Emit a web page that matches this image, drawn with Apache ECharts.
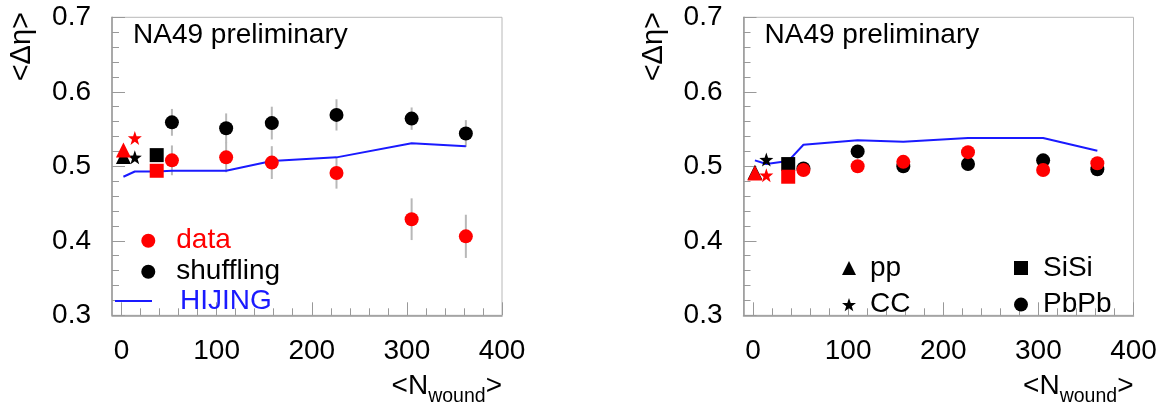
<!DOCTYPE html>
<html>
<head>
<meta charset="utf-8">
<script src="https://cdn.jsdelivr.net/npm/echarts@6/dist/echarts.min.js"></script>
<style>
  html, body { margin: 0; padding: 0; background: #fff; }
  #chart { width: 1166px; height: 405px; }
</style>
</head>
<body>
<div id="chart"></div>
<script>
// x positions
const xTicks = [0, 100, 200, 300, 400];
const nPbPb = [53, 110, 158, 226, 305, 362];
const nSmall = [2, 14, 37]; // pp, CC, SiSi
const smallNames = ['pp', 'CC', 'SiSi'];
const hijingN = [2, 14, 37, 53, 110, 158, 226, 305, 362];

// left panel
const leftData = [0.508, 0.512, 0.505, 0.491, 0.429, 0.406];
const leftDataErr = [0.020, 0.020, 0.022, 0.021, 0.028, 0.029];
const leftShuf = [0.559, 0.551, 0.558, 0.569, 0.564, 0.544];
const leftShufErr = [0.018, 0.020, 0.022, 0.021, 0.015, 0.018];
const leftDataSmall = [0.522, 0.538, 0.494];
const leftShufSmall = [0.513, 0.512, 0.515];
const leftHijing = [0.486, 0.493, 0.493, 0.494, 0.494, 0.507, 0.512, 0.531, 0.527];

// right panel
const rightData = [0.495, 0.500, 0.506, 0.519, 0.495, 0.504];
const rightDataErr = [0.008, 0.008, 0.008, 0.008, 0.008, 0.008];
const rightShuf = [0.497, 0.520, 0.500, 0.503, 0.508, 0.496];
const rightShufErr = [0.006, 0.006, 0.006, 0.006, 0.006, 0.006];
const rightDataSmall = [0.491, 0.488, 0.486];
const rightShufSmall = [0.492, 0.509, 0.503];
const rightHijing = [0.508, 0.503, 0.507, 0.529, 0.535, 0.533, 0.538, 0.538, 0.521];

const FONT = '"Liberation Sans", Arial, Helvetica, sans-serif';
const RED = '#ff0000', BLACK = '#000000', BLUE = '#1a1aff', GREY = '#999999';
const STAR = 'path://M0,-10L2.35,-3.24L9.51,-3.09L3.8,1.24L5.88,8.09L0,4L-5.88,8.09L-3.8,1.24L-9.51,-3.09L-2.35,-3.24Z';
const smallSymbols = ['triangle', STAR, 'rect'];
const smallSizes = [15, 14, 14];

// minor tick values, 5 divisions between majors
const xMinor = [];
for (let i = 0; i < xTicks.length - 1; i++) {
  const step = (xTicks[i + 1] - xTicks[i]) / 5;
  for (let k = 1; k < 5; k++) xMinor.push(xTicks[i] + k * step);
}

const chart = echarts.init(document.getElementById('chart'), null, { renderer: 'canvas' });

const gridLeft = [112, 743.5];

function errBars(name, gi, ns, vs, es) {
  return {
    type: 'custom', name: name, xAxisIndex: gi, yAxisIndex: gi, z: 1, silent: true,
    data: ns.map((n, i) => [n, vs[i], es[i]]),
    renderItem: function (params, api) {
      const x = api.value(0), y = api.value(1), e = api.value(2);
      const a = api.coord([x, y - e]), b = api.coord([x, y + e]);
      return {
        type: 'line',
        shape: { x1: a[0], y1: a[1], x2: b[0], y2: b[1] },
        style: { stroke: '#b8b8b8', lineWidth: 2 }
      };
    }
  };
}

function pts(name, gi, ns, vs, symbol, size, color, z) {
  return {
    type: 'scatter', name: name, xAxisIndex: gi, yAxisIndex: gi, z: z,
    symbol: symbol, symbolSize: size, silent: true,
    itemStyle: { color: color, opacity: 1 },
    data: ns.map((n, i) => [n, vs[i]])
  };
}

function hijing(gi, vs) {
  return {
    type: 'line', name: 'HIJING', xAxisIndex: gi, yAxisIndex: gi, z: 2,
    symbol: 'none', showSymbol: false, silent: true,
    lineStyle: { color: BLUE, width: 2 },
    itemStyle: { color: BLUE },
    data: hijingN.map((n, i) => [n, vs[i]])
  };
}

const series = [];
[[leftData, leftDataErr, leftShuf, leftShufErr, leftDataSmall, leftShufSmall, leftHijing, ['data', 'shuffling']],
 [rightData, rightDataErr, rightShuf, rightShufErr, rightDataSmall, rightShufSmall, rightHijing, ['PbPb data', 'PbPb']]]
  .forEach(function (p, gi) {
    series.push(errBars('err data ' + gi, gi, nPbPb, p[0], p[1]));
    series.push(errBars('err shuf ' + gi, gi, nPbPb, p[2], p[3]));
    series.push(hijing(gi, p[6]));
    smallNames.forEach(function (s, k) {
      series.push(pts(gi === 1 ? s : s + ' shuffling', gi, [nSmall[k]], [p[5][k]], smallSymbols[k], smallSizes[k], BLACK, 3));
      series.push(pts(s + ' data ' + gi, gi, [nSmall[k]], [p[4][k]], smallSymbols[k], smallSizes[k], RED, 4));
    });
    series.push(pts(p[7][1], gi, nPbPb, p[2], 'circle', 14, BLACK, 3));
    series.push(pts(p[7][0], gi, nPbPb, p[0], 'circle', 14, RED, 4));
  });

function mainX(gi) {
  return {
    type: 'value', gridIndex: gi, min: -10, max: 400, position: 'bottom',
    axisLine: { show: true, onZero: false, lineStyle: { color: GREY, width: 1.5 } },
    axisTick: { show: true, inside: true, length: 13, customValues: xTicks, lineStyle: { color: GREY, width: 1 } },
    minorTick: { show: false },
    axisLabel: { customValues: xTicks, fontSize: 28, fontFamily: FONT, color: BLACK, margin: 22 },
    splitLine: { show: false }
  };
}
function minorX(gi) {
  return {
    type: 'value', gridIndex: gi, min: -10, max: 400, position: 'bottom', offset: 0,
    axisLine: { show: false, onZero: false },
    axisTick: { show: true, inside: true, length: 7, customValues: xMinor, lineStyle: { color: GREY, width: 1 } },
    axisLabel: { show: false },
    splitLine: { show: false }
  };
}
function mainY(gi) {
  return {
    type: 'value', gridIndex: gi, min: 0.3, max: 0.7, interval: 0.1,
    axisLine: { show: true, onZero: false, lineStyle: { color: GREY, width: 1.5 } },
    axisTick: { show: true, inside: true, length: 13, lineStyle: { color: GREY, width: 1 } },
    minorTick: { show: true, splitNumber: 5, length: 7, lineStyle: { color: GREY, width: 1 } },
    axisLabel: { fontSize: 28, fontFamily: FONT, color: BLACK, margin: 21, padding: [6, 0, 0, 0] },
    splitLine: { show: false }
  };
}

const legendText = { fontSize: 28, lineHeight: 28, fontFamily: FONT, color: BLACK };

const graphic = [];
gridLeft.forEach(function (gl) {
  const dx = gl - gridLeft[0];
  graphic.push({
    type: 'text', x: 133 + dx, y: 35.3, silent: true,
    style: { text: 'NA49 preliminary', font: '28px ' + FONT, fill: BLACK, align: 'left', verticalAlign: 'middle' }
  });
  graphic.push({
    type: 'text', x: 22.3 + dx, y: 12, rotation: Math.PI / 2, silent: true,
    style: { text: '<Δη>', font: '29px ' + FONT, fill: BLACK, align: 'right', verticalAlign: 'middle' }
  });
  graphic.push({
    type: 'text', x: 502 + dx, y: 386.7, silent: true,
    style: {
      text: '{m|<N}{s|wound}{m|>}', align: 'right', verticalAlign: 'middle', fill: BLACK,
      rich: {
        m: { fontSize: 28, fontFamily: FONT, fill: BLACK, lineHeight: 28 },
        s: { fontSize: 19.5, fontFamily: FONT, fill: BLACK, lineHeight: 20, padding: [20, 0, 0, 0] }
      }
    }
  });
});

const option = {
  backgroundColor: '#ffffff',
  animation: false,
  grid: gridLeft.map(function (gl) {
    return { left: gl, top: 17.3, width: 390, height: 298, show: true, borderColor: '#b8b8b8', borderWidth: 1,
             backgroundColor: 'transparent', containLabel: false, outerBoundsMode: 'none' };
  }),
  xAxis: [mainX(0), mainX(1), minorX(0), minorX(1)],
  yAxis: [mainY(0), mainY(1)],
  legend: [
    {
      data: [{ name: 'data', textStyle: { color: RED } }, { name: 'shuffling' }],
      orient: 'vertical', left: 141.3, top: 226.7, itemWidth: 14, itemHeight: 14, itemGap: 3, padding: 0,
      selectedMode: false, textStyle: Object.assign({ padding: [0, 0, 0, 16] }, legendText)
    },
    {
      data: [{ name: 'HIJING', icon: 'rect', textStyle: { color: BLUE } }],
      orient: 'vertical', left: 115, top: 287, itemWidth: 37, itemHeight: 2, itemGap: 3, padding: 0,
      selectedMode: false, textStyle: Object.assign({ padding: [0, 0, 0, 23] }, legendText)
    },
    {
      data: ['pp', 'CC'],
      orient: 'vertical', left: 842, top: 254, itemWidth: 14, itemHeight: 14, itemGap: 8.6, padding: 0,
      selectedMode: false, textStyle: Object.assign({ padding: [0, 0, 0, 9] }, legendText)
    },
    {
      data: ['SiSi', 'PbPb'],
      orient: 'vertical', left: 1014, top: 254, itemWidth: 14, itemHeight: 14, itemGap: 8.6, padding: 0,
      selectedMode: false, textStyle: Object.assign({ padding: [0, 0, 0, 10] }, legendText)
    }
  ],
  graphic: graphic,
  series: series
};

chart.setOption(option);
</script>
</body>
</html>
